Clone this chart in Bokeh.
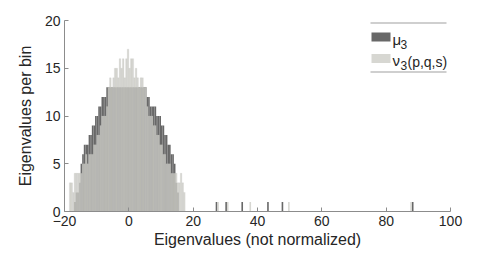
import numpy as np
from bokeh.plotting import figure
from bokeh.models import Label, BoxAnnotation, FixedTicker, Range1d
from bokeh.embed import file_html
from bokeh.resources import INLINE

# ---- data ----
bin_start = -18.5
bin_width = 0.5
mu3_counts = [0, 0, 0, 1, 2, 2, 3, 5, 6, 7, 7, 7, 8, 8, 9, 9, 10, 10, 11, 11, 12, 12, 12, 13,
              13, 13, 13, 13, 13, 13, 13, 13, 13, 13, 13, 13, 13, 13, 13, 13, 13, 13, 13, 13, 13, 13, 13, 13,
              12, 12, 11, 11, 11, 11, 10, 10, 10, 9, 9, 8, 8, 7, 7, 6, 6, 5, 3, 2, 0, 0, 0, 0]
nu3_counts = [3, 3, 2, 4, 4, 4, 4, 4, 5, 5, 6, 5, 6, 6, 6, 7, 7, 8, 8, 9, 10, 10, 10, 11,
              13, 14, 13, 14, 15, 15, 14, 16, 15, 16, 14, 16, 17, 15, 16, 16, 14, 15, 14, 13, 14, 14, 13, 13,
              11, 10, 10, 10, 9, 9, 8, 8, 7, 7, 6, 6, 5, 5, 5, 4, 4, 4, 4, 3, 3, 4, 3, 2]
mu3_outlier_x = [27.25, 30.25, 35.25, 43.25, 47.75, 88.25]
mu3_outlier_counts = [1, 1, 1, 1, 1, 1]
nu3_outlier_x = [27.75, 30.75, 37.75, 49.75, 87.75]
nu3_outlier_counts = [1, 1, 1, 1, 1]
x_ticks = [-20, 0, 20, 40, 60, 80, 100]
y_ticks = [0, 5, 10, 15, 20]

centers = bin_start + bin_width * (np.arange(len(mu3_counts)) + 0.5)

DARK = "#686868"
LIGHT = "#cdcdc7"
TXT = "#262626"
AX = "#8c8c8c"
FONT = "Liberation Sans"

p = figure(width=490, height=250, output_backend="svg", toolbar_location=None,
           x_range=Range1d(-20, 100), y_range=Range1d(0, 20),
           min_border_left=64, min_border_right=40, min_border_top=20, min_border_bottom=37)
p.outline_line_color = None
p.grid.visible = False
p.background_fill_color = "white"

p.vbar(x=centers, top=mu3_counts, width=bin_width, fill_color=DARK, line_color=None)
p.vbar(x=mu3_outlier_x, top=mu3_outlier_counts, width=bin_width, fill_color=DARK, line_color=None)
p.vbar(x=centers, top=nu3_counts, width=bin_width, fill_color=LIGHT, fill_alpha=0.8,
       line_color="#b9b9b3", line_width=0.3, line_alpha=0.6)
p.vbar(x=nu3_outlier_x, top=nu3_outlier_counts, width=bin_width, fill_color=LIGHT, fill_alpha=0.8,
       line_color=None)

for ax in (p.xaxis[0], p.yaxis[0]):
    ax.axis_line_color = AX
    ax.major_tick_line_color = AX
    ax.major_tick_in = 4
    ax.major_tick_out = 0
    ax.minor_tick_line_color = None
    ax.major_label_text_font = FONT
    ax.major_label_text_font_size = "14px"
    ax.major_label_text_color = TXT
    ax.axis_label_text_font = FONT
    ax.axis_label_text_font_size = "16px"
    ax.axis_label_text_color = TXT
    ax.axis_label_text_font_style = "normal"
    ax.major_label_standoff = 4

p.xaxis.ticker = FixedTicker(ticks=x_ticks)
p.yaxis.ticker = FixedTicker(ticks=y_ticks)
p.xaxis.axis_label = "Eigenvalues (not normalized)"
p.yaxis.axis_label = "Eigenvalues per bin"
p.xaxis.axis_label_standoff = 2
p.yaxis.axis_label_standoff = 8

# ---- legend (screen units, from frame bottom-left) ----
def sbox(l, r, b, t, color, alpha=1.0):
    p.add_layout(BoxAnnotation(left=l, right=r, bottom=b, top=t,
                               left_units="screen", right_units="screen",
                               bottom_units="screen", top_units="screen",
                               fill_color=color, fill_alpha=alpha, line_color=None))

sbox(306, 382, 188, 189, "#a0a0a0")
sbox(306, 382, 139, 140, "#a0a0a0")
sbox(307, 326, 170, 179, DARK)
sbox(307, 326, 148.5, 157.5, LIGHT, 0.8)

def slabel(x, y, t, size):
    p.add_layout(Label(x=x, y=y, x_units="screen", y_units="screen", text=t,
                       text_font=FONT, text_font_size=size, text_color=TXT,
                       text_baseline="alphabetic"))

slabel(328, 172, "μ", "15px")
slabel(336, 167, "3", "12px")
slabel(328, 151, "ν", "15px")
slabel(336, 146, "3", "12px")
slabel(343, 150, "(p,q,s)", "14px")

open("out.html", "w").write(file_html(p, INLINE))
